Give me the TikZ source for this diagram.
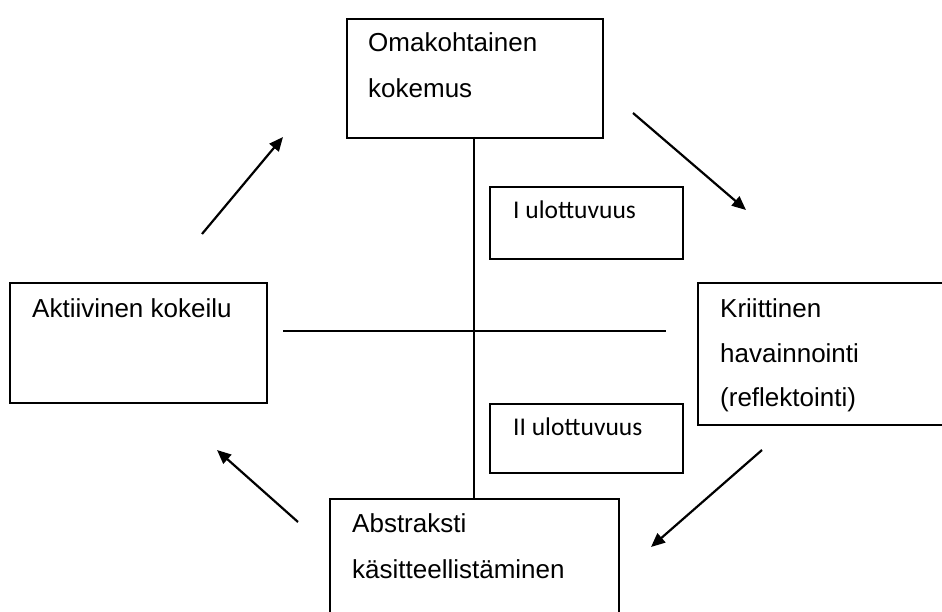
\documentclass[tikz,border=0pt]{standalone}
\usepackage{fontspec}
\setmainfont{Liberation Sans}
\newfontfamily\calibrifont{Carlito}
\usetikzlibrary{arrows.meta}
\begin{document}
\begin{tikzpicture}[x=1pt,y=-1pt,
  boxline/.style={draw=black,line width=1.9pt,inner sep=0pt,anchor=north west},
  lbl/.style={anchor=base west,inner sep=0pt,font=\fontsize{26}{30}\selectfont},
  dimlbl/.style={anchor=base west,inner sep=0pt,font=\calibrifont\fontsize{25.5}{30}\selectfont},
  axis/.style={line width=1.9pt},
  flow/.style={line width=2.2pt,-{Triangle[length=14pt,width=12pt]}}]
\useasboundingbox (0,0) rectangle (942,612);
\clip (0,0) rectangle (942,612);
\fill[white] (0,0) rectangle (942,612);

% boxes
\node[boxline,minimum width=256pt,minimum height=119pt] (top) at (346,18) {};
\node[boxline,minimum width=193pt,minimum height=72pt] (dimI) at (489,186) {};
\node[boxline,minimum width=193pt,minimum height=69pt] (dimII) at (489,403) {};
\node[boxline,minimum width=257pt,minimum height=120pt] (left) at (9,282) {};
\node[boxline,minimum width=270pt,minimum height=142pt] (right) at (697,282) {};
\node[boxline,minimum width=289pt,minimum height=140pt] (bottom) at (329,498) {};

% texts
\node[lbl] (t1) at (368,52) {Omakohtainen};
\node[lbl] (t2) at (368,98) {kokemus};
\node[dimlbl] (d1) at (513,219) {I ulottuvuus};
\node[dimlbl] (d2) at (513,435) {II ulottuvuus};
\node[lbl] (t3) at (32,317) {Aktiivinen kokeilu};
\node[lbl] (t4) at (720,317) {Kriittinen};
\node[lbl] (t5) at (720,362) {havainnointi};
\node[lbl] (t6) at (720,406) {(reflektointi)};
\node[lbl] (t7) at (352,532) {Abstraksti};
\node[lbl] (t8) at (352,578) {käsitteellistäminen};

% axes
\coordinate (vtop) at (474,137);
\coordinate (vbot) at (474,498);
\coordinate (hl) at (283,331);
\coordinate (hr) at (666,331);
\draw[axis] (vtop) -- (vbot);
\draw[axis] (hl) -- (hr);

% cycle arrows
\coordinate (a1s) at (202,234); \coordinate (a1e) at (283,137);
\coordinate (a2s) at (633,113); \coordinate (a2e) at (746,210);
\coordinate (a3s) at (762,450); \coordinate (a3e) at (651,547);
\coordinate (a4s) at (298,522); \coordinate (a4e) at (217,450);
\draw[flow] (a1s) -- (a1e);
\draw[flow] (a2s) -- (a2e);
\draw[flow] (a3s) -- (a3e);
\draw[flow] (a4s) -- (a4e);
\end{tikzpicture}
\end{document}
